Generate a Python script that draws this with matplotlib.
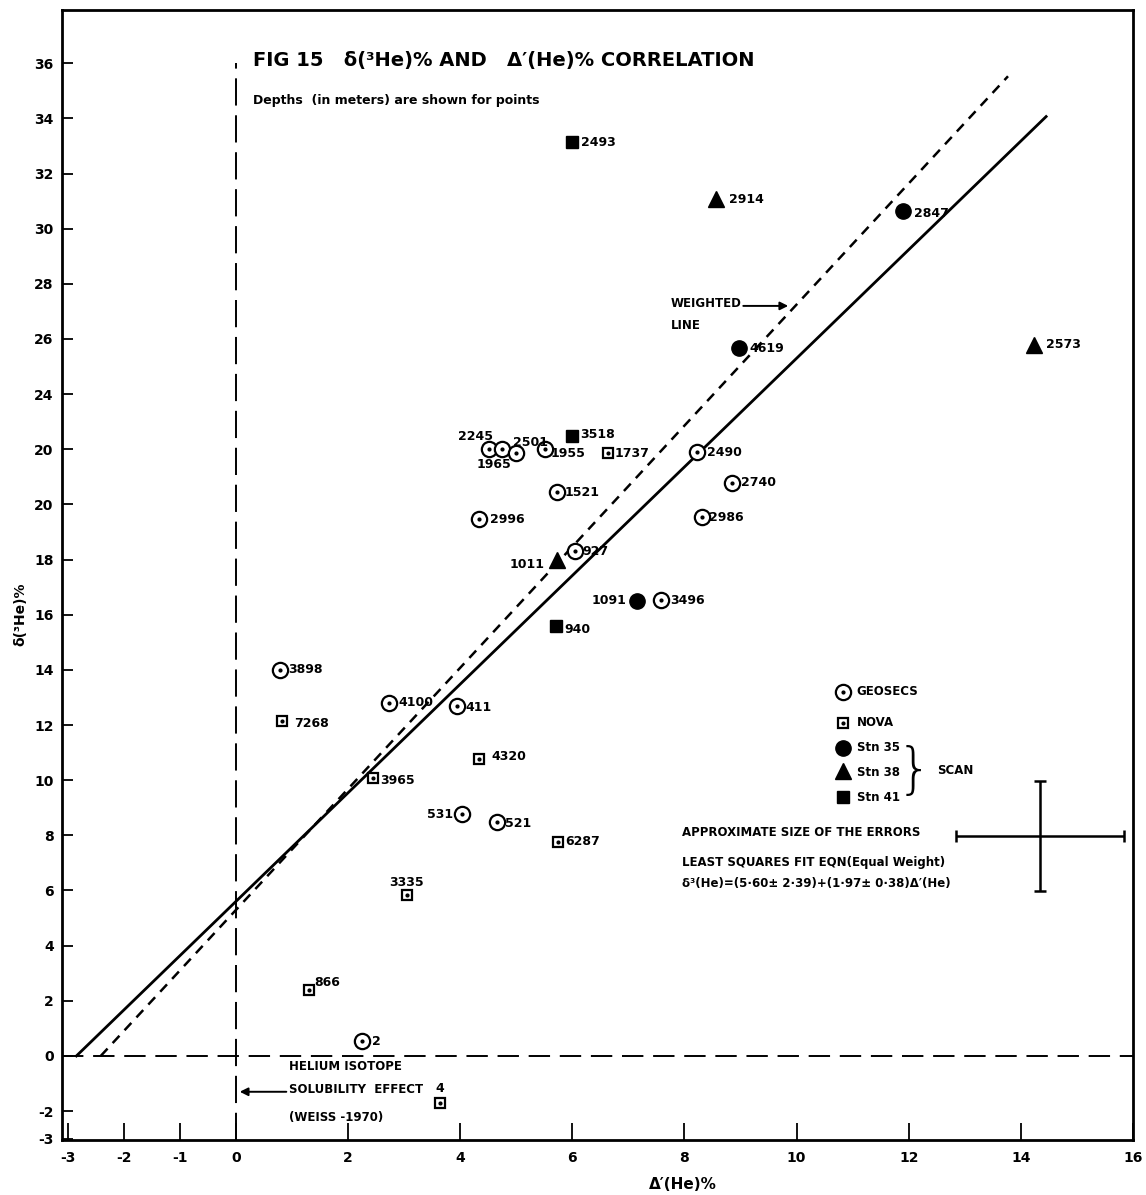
import matplotlib
matplotlib.use("Agg")
import matplotlib.pyplot as plt
import numpy as np

plt.rcParams['font.family'] = ['DejaVu Sans']

# ---- data -------------------------------------------------------------
# GEOSECS stations (open circle with centre dot)
geo_x = [4.52, 4.75, 5.00, 5.52, 5.73, 8.23, 8.84, 4.34, 8.32, 6.04, 7.59, 0.79, 2.73, 3.95, 4.04, 4.66, 2.25]
geo_y = [22.0, 22.0, 21.85, 22.0, 20.45, 21.9, 20.78, 19.47, 19.54, 18.31, 16.53, 14.0, 12.8, 12.7, 8.77, 8.48, 0.54]
geo_depth = ["2245", "1965", "2501", "1955", "1521", "2490", "2740", "2996", "2986", "927",
             "3496", "3898", "4100", "411", "531", "521", "2"]

# NOVA stations (open square with centre dot)
nova_x = [6.63, 0.82, 4.34, 2.45, 5.75, 3.05, 1.30, 3.64]
nova_y = [21.86, 12.15, 10.77, 10.08, 7.76, 5.84, 2.40, -1.70]
nova_depth = ["1737", "7268", "4320", "3965", "6287", "3335", "866", "4"]

# SCAN stations
stn35_x = [11.89, 8.98, 7.16]
stn35_y = [30.64, 25.67, 16.50]
stn35_depth = ["2847", "4619", "1091"]

stn38_x = [8.57, 14.23, 5.73]
stn38_y = [31.07, 25.80, 17.98]
stn38_depth = ["2914", "2573", "1011"]

stn41_x = [6.00, 6.00, 5.71]
stn41_y = [33.14, 22.48, 15.60]
stn41_depth = ["2493", "3518", "940"]

# least squares fit (equal weight) and weighted line
fit_intercept, fit_slope = 5.60, 1.97
wtd_intercept, wtd_slope = 5.29, 2.196
fit_xmax, wtd_xmax = 14.45, 13.77

# approximate size of the errors
err_x, err_y = 14.34, 7.98
err_dx, err_dy = 1.5, 2.0

# axis ticks
x_ticks = [-3, -2, -1, 0, 2, 4, 6, 8, 10, 12, 14, 16]
x_ticklabels = ["-3", "-2", "-1", "0", "2", "4", "6", "8", "10", "12", "14", "16"]
y_ticks = [36, 34, 32, 30, 28, 26, 24, 22, 20, 18, 16, 14, 12, 10, 8, 6, 4, 2, 0, -2, -3]
y_ticklabels = ["36", "34", "32", "30", "28", "26", "24", "20", "20", "18", "16", "14", "12",
                "10", "8", "6", "4", "2", "0", "-2", "-3"]

# label offsets (points) and alignment for each depth label
geo_off = [(-10, 9, 'center'), (-6, -11, 'center'), (10, 8, 'center'), (4, -3, 'left'),
           (5, 0, 'left'), (7, 0, 'left'), (7, 0, 'left'), (8, 0, 'left'), (5, 0, 'left'),
           (6, 0, 'left'), (6, 0, 'left'), (6, 0, 'left'), (7, 0, 'left'), (6, -1, 'left'),
           (-7, 0, 'right'), (6, -1, 'left'), (7, 0, 'left')]
nova_off = [(5, 0, 'left'), (9, -2, 'left'), (9, 2, 'left'), (5, -2, 'left'), (5, 0, 'left'),
            (0, 9, 'center'), (4, 5, 'left'), (0, 10, 'center')]
s35_off = [(8, -2, 'left'), (7, 0, 'left'), (-8, 0, 'right')]
s38_off = [(9, 0, 'left'), (9, 0, 'left'), (-9, -3, 'right')]
s41_off = [(6, 0, 'left'), (6, 1, 'left'), (6, -3, 'left')]

# ---- figure -------------------------------------------------------------
fig = plt.figure(figsize=(11.46, 11.95), dpi=100)
ax = fig.add_axes([0.0541, 0.046, 0.9346, 0.9456])
ax.set_xlim(-3.1, 16.0)
ax.set_ylim(-3.05, 37.93)

for s in ax.spines.values():
    s.set_linewidth(2.0)
    s.set_color('black')

ax.set_xticks(x_ticks)
ax.set_xticklabels(x_ticklabels, fontsize=10, fontweight='bold')
ax.set_yticks(y_ticks)
ax.set_yticklabels(y_ticklabels, fontsize=10, fontweight='bold')
ax.tick_params(axis='x', direction='in', length=12, width=1.3, pad=8)
ax.tick_params(axis='y', direction='in', length=8, width=1.3, pad=6)

# reference axes through the origin
ax.axhline(0, color='black', lw=1.4, dashes=(11, 5), zorder=1)
ax.plot([0, 0], [-3.05, 36.0], color='black', lw=1.4, dashes=(14, 5), zorder=1)

# fitted lines
xf = np.array([-fit_intercept / fit_slope, fit_xmax])
ax.plot(xf, fit_intercept + fit_slope * xf, color='black', lw=2.0, zorder=2)
xw = np.array([-wtd_intercept / wtd_slope, wtd_xmax])
ax.plot(xw, wtd_intercept + wtd_slope * xw, color='black', lw=1.8, dashes=(4, 3), zorder=2)

# markers
def dotted(xs, ys, marker, size):
    ax.plot(xs, ys, ls='none', marker=marker, ms=size, mfc='white', mec='black', mew=1.6, zorder=4)
    ax.plot(xs, ys, ls='none', marker='o', ms=2.0, color='black', zorder=5)

dotted(geo_x, geo_y, 'o', 11)
dotted(nova_x, nova_y, 's', 7.5)
ax.plot(stn35_x, stn35_y, ls='none', marker='o', ms=11, color='black', zorder=4)
ax.plot(stn38_x, stn38_y, ls='none', marker='^', ms=12, color='black', zorder=4)
ax.plot(stn41_x, stn41_y, ls='none', marker='s', ms=8, color='black', zorder=4)

def labels(xs, ys, names, offs, size=9):
    for x, y, t, (dx, dy, ha) in zip(xs, ys, names, offs):
        ax.annotate(t, (x, y), xytext=(dx, dy), textcoords='offset points',
                    ha=ha, va='center', fontsize=size, fontweight='bold', zorder=6)

labels(geo_x, geo_y, geo_depth, geo_off)
labels(nova_x, nova_y, nova_depth, nova_off)
labels(stn35_x, stn35_y, stn35_depth, s35_off)
labels(stn38_x, stn38_y, stn38_depth, s38_off)
labels(stn41_x, stn41_y, stn41_depth, s41_off)

# error cross
ax.errorbar([err_x], [err_y], xerr=[err_dx], yerr=[err_dy], fmt='none', ecolor='black',
            elinewidth=1.8, capsize=4, capthick=1.8, zorder=3)

# titles and notes
ax.text(0.3, 36.1, "FIG 15   δ(³He)% AND   Δ′(He)% CORRELATION", fontsize=14,
        fontweight='bold', va='center', ha='left')
ax.text(0.3, 34.65, "Depths  (in meters) are shown for points", fontsize=9,
        fontweight='bold', va='center', ha='left')

ax.text(7.75, 27.3, "WEIGHTED", fontsize=8.5, fontweight='bold', va='center')
ax.text(7.75, 26.5, "LINE", fontsize=8.5, fontweight='bold', va='center')
ax.annotate("", xy=(9.9, 27.2), xytext=(9.0, 27.2),
            arrowprops=dict(arrowstyle='-|>', color='black', lw=1.4, mutation_scale=12))

# legend block
leg_x = 10.82
txt_x = leg_x + 0.25
ax.plot([leg_x], [13.2], marker='o', ms=11, mfc='white', mec='black', mew=1.6)
ax.plot([leg_x], [13.2], marker='o', ms=2, color='black')
ax.text(txt_x, 13.2, "GEOSECS", fontsize=8.5, fontweight='bold', va='center')
ax.plot([leg_x], [12.08], marker='s', ms=7.5, mfc='white', mec='black', mew=1.6)
ax.plot([leg_x], [12.08], marker='o', ms=2, color='black')
ax.text(txt_x, 12.08, "NOVA", fontsize=8.5, fontweight='bold', va='center')
ax.plot([leg_x], [11.17], marker='o', ms=11, color='black')
ax.text(txt_x, 11.17, "Stn 35", fontsize=8.5, fontweight='bold', va='center')
ax.plot([leg_x], [10.32], marker='^', ms=12, color='black')
ax.text(txt_x, 10.28, "Stn 38", fontsize=8.5, fontweight='bold', va='center')
ax.plot([leg_x], [9.39], marker='s', ms=8, color='black')
ax.text(txt_x, 9.39, "Stn 41", fontsize=8.5, fontweight='bold', va='center')
ax.text(11.78, 10.28, "}", fontsize=40, fontweight='light', va='center', ha='left')
ax.text(12.5, 10.36, "SCAN", fontsize=8.5, fontweight='bold', va='center')

ax.text(7.96, 8.12, "APPROXIMATE SIZE OF THE ERRORS", fontsize=8.5, fontweight='bold', va='center')
ax.text(7.96, 7.0, "LEAST SQUARES FIT EQN(Equal Weight)", fontsize=8.5, fontweight='bold', va='center')
ax.text(7.96, 6.27, "δ³(He)=(5·60± 2·39)+(1·97± 0·38)Δ′(He)", fontsize=8.5,
        fontweight='bold', va='center')

ax.text(0.95, -0.37, "HELIUM ISOTOPE", fontsize=8.5, fontweight='bold', va='center')
ax.text(0.95, -1.23, "SOLUBILITY  EFFECT", fontsize=8.5, fontweight='bold', va='center')
ax.text(0.95, -2.25, "(WEISS -1970)", fontsize=8.5, fontweight='bold', va='center')
ax.annotate("", xy=(0.02, -1.3), xytext=(0.95, -1.3),
            arrowprops=dict(arrowstyle='-|>', color='black', lw=1.4, mutation_scale=12))

ax.set_xlabel("Δ′(He)%", fontsize=11, fontweight='bold')
ax.xaxis.set_label_coords(0.58, -0.0325)
ax.set_ylabel("δ(³He)%", fontsize=10, fontweight='bold')
ax.yaxis.set_label_coords(-0.032, 0.465)

fig.savefig("out.png", dpi=100)
